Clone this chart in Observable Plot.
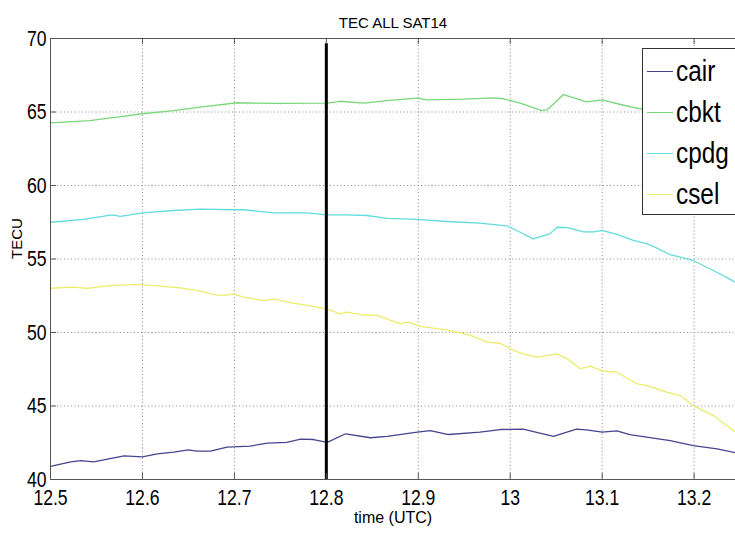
<!DOCTYPE html>
<html><head><meta charset="utf-8">
<script src="https://cdn.jsdelivr.net/npm/d3@7"></script>
<script src="https://cdn.jsdelivr.net/npm/@observablehq/plot@0.6"></script>
<style>
html,body{margin:0;padding:0;background:#fff;overflow:hidden}
#wrap{position:relative;width:735px;height:533px;overflow:hidden}
#legend{position:absolute;left:642px;top:48px;width:110px;height:167px;border:1px solid #333;background:#fff;box-sizing:border-box;font-family:"Liberation Sans",Arial,sans-serif}
.item{position:absolute;left:4px;height:30px;display:flex;align-items:center}
.item .sw{width:26px;height:0;border-top:1.5px solid}
.item .lb{font-size:29px;transform:scaleX(.84);transform-origin:left center;margin-left:3px;color:#000;line-height:30px;white-space:nowrap}
</style></head><body><div id="wrap"><div id="chart"></div><div id="legend"></div></div>
<script>
// ---- data ----
const seriesNames = ["cair", "cbkt", "cpdg", "csel"];
const seriesColors = ["#45458f", "#7ad67a", "#62dbdb", "#ecec6a"];

const cairT = [12.5, 12.522, 12.533, 12.547, 12.562, 12.58, 12.6, 12.616, 12.634, 12.65, 12.659, 12.674, 12.692, 12.717, 12.736, 12.757, 12.772, 12.786, 12.801, 12.821, 12.848, 12.866, 12.899, 12.913, 12.933, 12.967, 12.989, 13.014, 13.047, 13.072, 13.083, 13.1, 13.116, 13.13, 13.174, 13.199, 13.225, 13.245];
const cairV = [40.9, 41.2, 41.29, 41.2, 41.38, 41.61, 41.54, 41.75, 41.86, 42.02, 41.93, 41.93, 42.2, 42.27, 42.47, 42.52, 42.74, 42.72, 42.52, 43.11, 42.84, 42.93, 43.22, 43.33, 43.06, 43.22, 43.4, 43.42, 42.93, 43.42, 43.37, 43.22, 43.31, 43.06, 42.65, 42.31, 42.09, 41.82];

const cbktT = [12.5, 12.543, 12.572, 12.6, 12.634, 12.663, 12.703, 12.743, 12.801, 12.815, 12.841, 12.866, 12.899, 12.909, 12.949, 12.982, 12.993, 13.011, 13.034, 13.04, 13.058, 13.083, 13.1, 13.12, 13.141, 13.16];
const cbktV = [64.26, 64.42, 64.65, 64.88, 65.1, 65.33, 65.63, 65.58, 65.6, 65.73, 65.6, 65.78, 65.94, 65.83, 65.87, 65.96, 65.9, 65.6, 65.1, 65.14, 66.19, 65.69, 65.83, 65.51, 65.22, 65.1];

const cpdgT = [12.5, 12.536, 12.567, 12.576, 12.6, 12.634, 12.663, 12.699, 12.71, 12.743, 12.779, 12.801, 12.822, 12.844, 12.866, 12.899, 12.931, 12.967, 12.996, 13.007, 13.025, 13.043, 13.051, 13.062, 13.08, 13.091, 13.1, 13.116, 13.134, 13.149, 13.159, 13.174, 13.199, 13.221, 13.245];
const cpdgV = [57.5, 57.7, 58.0, 57.9, 58.14, 58.3, 58.39, 58.35, 58.35, 58.14, 58.14, 58.0, 58.0, 57.96, 57.76, 57.69, 57.55, 57.44, 57.26, 56.94, 56.37, 56.71, 57.16, 57.14, 56.85, 56.85, 56.94, 56.67, 56.26, 56.03, 55.76, 55.29, 54.9, 54.22, 53.42];

const cselT = [12.5, 12.525, 12.54, 12.562, 12.591, 12.616, 12.641, 12.659, 12.681, 12.692, 12.699, 12.71, 12.732, 12.743, 12.764, 12.786, 12.801, 12.815, 12.822, 12.841, 12.855, 12.87, 12.88, 12.889, 12.902, 12.931, 12.957, 12.975, 12.989, 13.0, 13.014, 13.029, 13.051, 13.062, 13.076, 13.087, 13.101, 13.116, 13.138, 13.149, 13.17, 13.185, 13.199, 13.221, 13.245];
const cselV = [53.01, 53.08, 53.0, 53.17, 53.27, 53.17, 53.04, 52.86, 52.54, 52.54, 52.63, 52.4, 52.18, 52.27, 52.0, 51.77, 51.59, 51.27, 51.38, 51.18, 51.18, 50.82, 50.6, 50.7, 50.41, 50.18, 49.8, 49.34, 49.27, 48.89, 48.55, 48.32, 48.55, 48.21, 47.53, 47.71, 47.37, 47.3, 46.5, 46.39, 45.94, 45.71, 45.03, 44.35, 43.22];

const xTicks = [12.5, 12.6, 12.7, 12.8, 12.9, 13.0, 13.1, 13.2];
const xTickLabels = ["12.5", "12.6", "12.7", "12.8", "12.9", "13", "13.1", "13.2"];
const yTicks = [40, 45, 50, 55, 60, 65, 70];
const yTickLabels = ["40", "45", "50", "55", "60", "65", "70"];
const markerTime = [12.8];
const xDomain = [12.5, 13.245];
const yDomain = [40, 70];
const titleText = "TEC ALL SAT14";
const xLabel = "time (UTC)";
const yLabel = "TECU";

// ---- build ----
const allT = [cairT, cbktT, cpdgT, cselT];
const allV = [cairV, cbktV, cpdgV, cselV];
const tables = allT.map((T, s) => T.map((t, i) => ({series: seriesNames[s], t, v: allV[s][i]})));

const W = 735, H = 533, mL = 50, mR = 0, mT = 38, mB = 54;
const pw = W - mL - mR, ph = H - mT - mB;
const axisColor = "#555";
const gridOpts = {stroke: "#8c8c8c", strokeOpacity: 1, strokeWidth: 1, strokeDasharray: "1,2.5"};

const plot = Plot.plot({
  width: W, height: H,
  marginLeft: mL, marginRight: mR, marginTop: mT, marginBottom: mB,
  style: {fontFamily: "'Liberation Sans', Arial, sans-serif", fontSize: "22px", color: "#000", background: "#fff", overflow: "visible"},
  x: {domain: xDomain},
  y: {domain: yDomain},
  marks: [
    Plot.gridX(xTicks, gridOpts),
    Plot.gridY(yTicks, gridOpts),
    ...tables.map((tb, s) => Plot.line(tb, {x: "t", y: "v", stroke: seriesColors[s], strokeWidth: 1.3})),
    Plot.ruleX(markerTime, {y1: yDomain[0], y2: 69.65, stroke: "#000", strokeWidth: 3}),
    Plot.ruleX([xDomain[0]], {stroke: axisColor}),
    Plot.ruleY([yDomain[0]], {stroke: axisColor}),
    Plot.ruleY([yDomain[1]], {stroke: axisColor}),
    Plot.tickY(yTicks, {y: d => d, insetRight: pw - 6, stroke: axisColor}),
    Plot.tickX(xTicks, {x: d => d, insetTop: ph - 6, stroke: axisColor}),
    Plot.tickX(xTicks, {x: d => d, insetBottom: ph - 6, stroke: axisColor}),
    Plot.axisY({ticks: yTicks, tickSize: 0, tickPadding: 4, label: null, tickFormat: d => yTickLabels[yTicks.indexOf(d)]}),
    Plot.axisX({ticks: xTicks, tickSize: 0, tickPadding: 10, label: null, tickFormat: d => xTickLabels[xTicks.indexOf(d)]}),
    Plot.text([titleText], {text: d => d, frameAnchor: "top", dy: -21, fontSize: 15, fill: "#000"}),
    Plot.text([yLabel], {text: d => d, frameAnchor: "left", dx: -33, rotate: -90, fontSize: 15, fill: "#000"}),
    Plot.text([xLabel], {text: d => d, frameAnchor: "bottom", dy: 43, fontSize: 16, fill: "#000"})
  ]
});

// condense tick labels horizontally (narrow look of the original)
plot.querySelectorAll('g[aria-label$="tick label"] text').forEach(t => {
  const tr = t.getAttribute("transform") || "";
  t.setAttribute("transform", `${tr} scale(0.8,1)`);
});
document.getElementById("chart").appendChild(plot);

// legend
const legend = document.getElementById("legend");
seriesNames.forEach((name, i) => {
  const it = document.createElement("div");
  it.className = "item";
  it.style.top = (22 + i * 41 - 15) + "px";
  it.innerHTML = `<span class="sw" style="border-color:${seriesColors[i]}"></span><span class="lb">${name}</span>`;
  legend.appendChild(it);
});
</script></body></html>
